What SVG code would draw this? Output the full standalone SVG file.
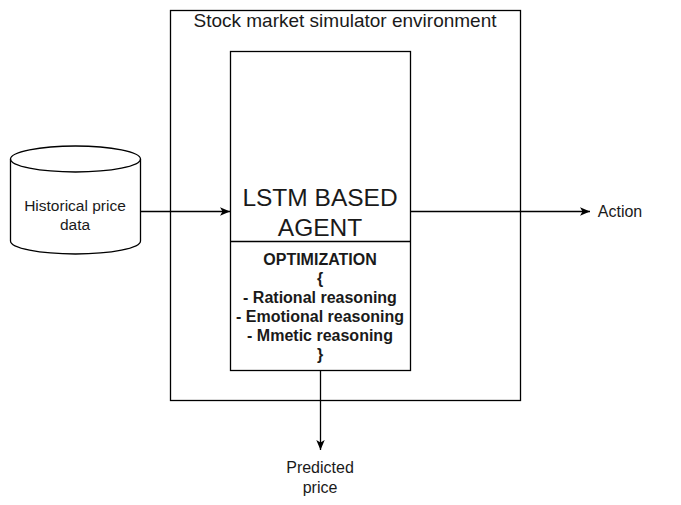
<svg xmlns="http://www.w3.org/2000/svg" width="681" height="505" viewBox="0 0 681 505">
<style>
.box{fill:#fff;stroke:#000;stroke-width:1.3}
.t{font-family:"Liberation Sans",Arial,sans-serif;fill:#1a1a1a;text-anchor:middle}
.b{font-weight:bold;font-size:16px}
.edge{stroke:#000;stroke-width:1.3;fill:none}
</style>
<defs>
<marker id="arr" markerWidth="12" markerHeight="10" refX="10" refY="5" orient="auto" markerUnits="userSpaceOnUse">
<path d="M0,0.8 L10,5 L0,9.2 L2.5,5 Z" fill="#000"/>
</marker>
</defs>
<rect width="681" height="505" fill="#fff"/>
<g id="env">
<rect class="box" x="170.5" y="10.5" width="350" height="390"/>
<text class="t" x="345" y="27" font-size="19">Stock market simulator environment</text>
</g>
<g id="db">
<path class="box" d="M10.5,159 A65,13 0 0 1 140.5,159 L140.5,241 A65,13 0 0 1 10.5,241 Z"/>
<path class="edge" d="M10.5,159 A65,13 0 0 0 140.5,159"/>
<text class="t" x="75" y="211" font-size="15.5">Historical price</text>
<text class="t" x="75" y="230" font-size="15.5">data</text>
</g>
<g id="agent">
<rect class="box" x="230.5" y="51.5" width="180" height="319"/>
<line class="edge" x1="230.5" y1="241.5" x2="410.5" y2="241.5"/>
<text class="t" x="320" y="206" font-size="24.5">LSTM BASED</text>
<text class="t" x="320" y="236" font-size="24.5">AGENT</text>
<text class="t b" x="320" y="265">OPTIMIZATION</text>
<text class="t b" x="320" y="284">{</text>
<text class="t b" x="320" y="303">- Rational reasoning</text>
<text class="t b" x="320" y="322">- Emotional reasoning</text>
<text class="t b" x="320" y="341">- Mmetic reasoning</text>
<text class="t b" x="320" y="360">}</text>
</g>
<g id="action">
<text class="t" x="620" y="217" font-size="16">Action</text>
</g>
<g id="predicted">
<text class="t" x="320" y="473" font-size="16">Predicted</text>
<text class="t" x="320" y="493" font-size="16">price</text>
</g>
<g id="connectors">
<line class="edge" x1="140.5" y1="211.5" x2="230" y2="211.5" marker-end="url(#arr)"/>
<line class="edge" x1="410.5" y1="211.5" x2="590" y2="211.5" marker-end="url(#arr)"/>
<line class="edge" x1="320.5" y1="370.5" x2="320.5" y2="450" marker-end="url(#arr)"/>
</g>
</svg>
